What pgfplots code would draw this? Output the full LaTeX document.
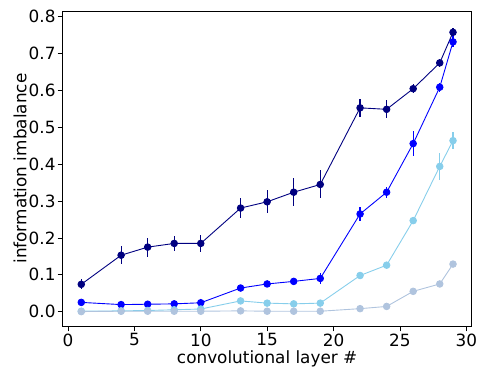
\documentclass[border=0pt]{standalone}
\usepackage{pgfplots}
\usepackage{pgfplotstable}
\pgfplotsset{compat=1.18}
\usepackage{fontspec}
\setmainfont{DejaVu Sans}
\definecolor{cnavy}{HTML}{000080}
\definecolor{cblue}{HTML}{0000FF}
\definecolor{csky}{HTML}{87CEEB}
\definecolor{csteel}{HTML}{B0C4DE}

\pgfplotstableread{
x y e
1 0.074 0.014
4 0.153 0.025
6 0.175 0.026
8 0.185 0.020
10 0.185 0.022
13 0.281 0.026
15 0.298 0.031
17 0.324 0.038
19 0.345 0.038
22 0.553 0.025
24 0.549 0.024
26 0.605 0.012
28 0.675 0.010
29 0.758 0.013
}\navy
\pgfplotstableread{
x y e
1 0.025 0.004
4 0.019 0.003
6 0.020 0.003
8 0.021 0.003
10 0.024 0.003
13 0.064 0.004
15 0.075 0.004
17 0.082 0.005
19 0.090 0.014
22 0.265 0.020
24 0.324 0.015
26 0.456 0.033
28 0.609 0.012
29 0.732 0.015
}\blue
\pgfplotstableread{
x y e
1 0.001 0.002
4 0.002 0.002
6 0.003 0.002
8 0.005 0.003
10 0.007 0.003
13 0.029 0.004
15 0.023 0.003
17 0.021 0.003
19 0.023 0.003
22 0.098 0.005
24 0.126 0.005
26 0.247 0.010
28 0.394 0.036
29 0.464 0.023
}\sky
\pgfplotstableread{
x y e
1 0.000 0.001
4 0.001 0.001
6 0.001 0.001
8 0.001 0.001
10 0.001 0.001
13 0.002 0.001
15 0.001 0.001
17 0.001 0.001
19 0.001 0.001
22 0.008 0.002
24 0.014 0.002
26 0.055 0.003
28 0.075 0.003
29 0.129 0.003
}\steel

\begin{document}
\begin{tikzpicture}
\begin{axis}[
  scale only axis,
  width=411bp, height=317bp,
  xmin=-0.4, xmax=30.4,
  ymin=-0.04, ymax=0.816,
  xtick={0,5,...,30},
  ytick={0,0.1,...,0.8},
  yticklabel style={/pgf/number format/.cd,fixed,fixed zerofill,precision=1},
  /pgf/number format/assume math mode=true,
  tick align=outside,
  xtick pos=bottom, ytick pos=left,
  major tick length=5bp,
  tick style={black, line width=0.8bp},
  axis line style={black, line width=0.8bp},
  ticklabel style={font=\fontsize{17}{19}\selectfont, inner sep=2bp},
  label style={font=\fontsize{17}{19}\selectfont, inner sep=1bp},
  xlabel={convolutional layer \#},
  ylabel={information imbalance},
  xlabel style={yshift=-1bp},
  ylabel style={yshift=-1bp},
  every axis plot/.append style={line width=0.9bp, mark=*, mark size=3.3bp,
     error bars/y dir=both, error bars/y explicit, error bars/error mark=none,
     error bars/error bar style={line width=1.2bp}},
]
\addplot[cnavy, mark options={fill=cnavy}] table[x=x,y=y,y error=e]{\navy};
\addplot[cblue, mark options={fill=cblue}] table[x=x,y=y,y error=e]{\blue};
\addplot[csky, mark options={fill=csky}] table[x=x,y=y,y error=e]{\sky};
\addplot[csteel, mark options={fill=csteel}] table[x=x,y=y,y error=e]{\steel};
\end{axis}
\path ([xshift=-63bp,yshift=-40bp]current axis.south west) rectangle ([xshift=5bp,yshift=11bp]current axis.north east);
\end{tikzpicture}
\end{document}
